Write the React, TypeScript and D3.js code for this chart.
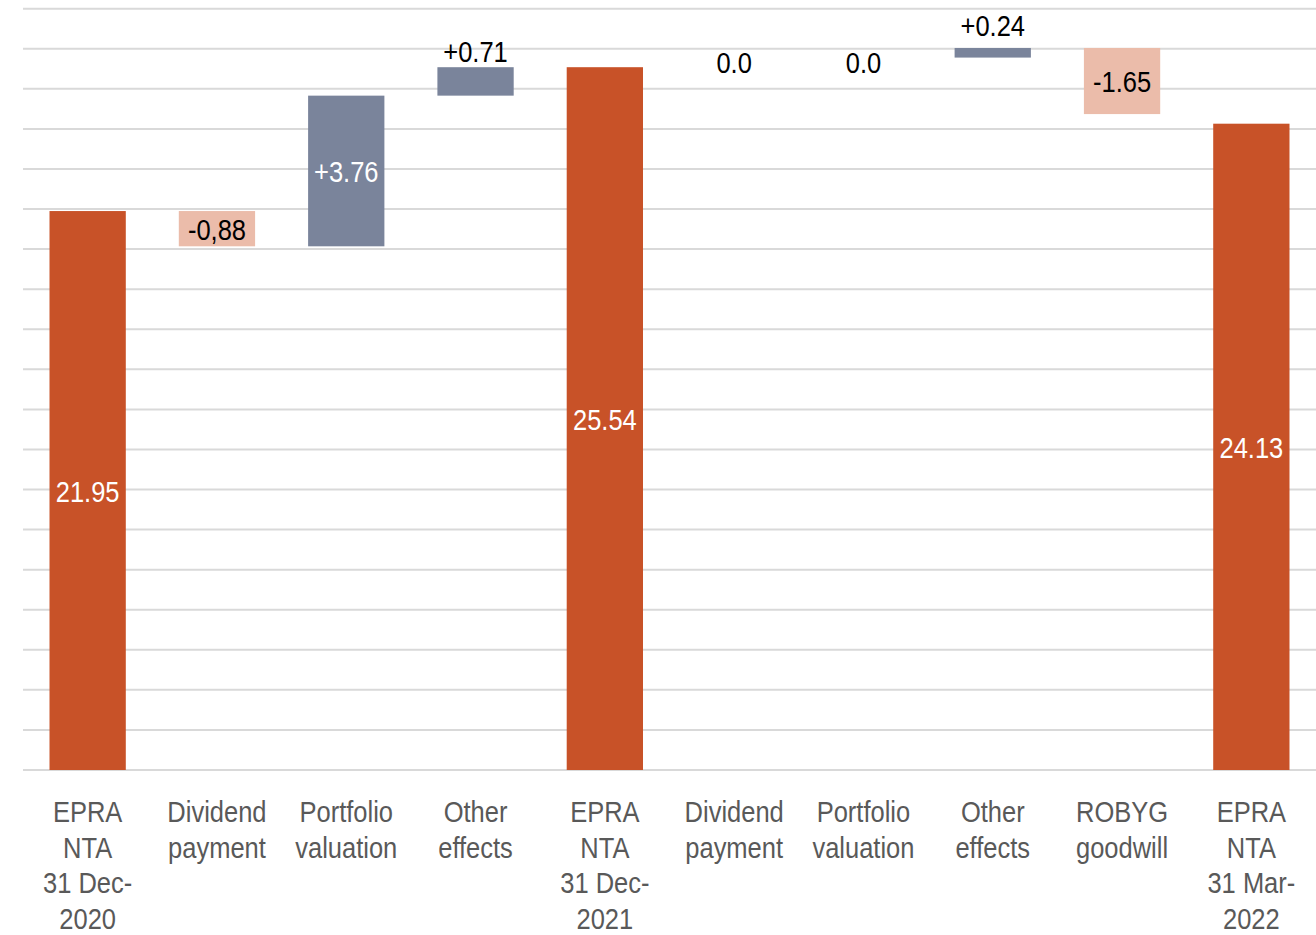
import React from "react";
import * as d3 from "d3";

// ---- data ----
const categoryLines: string[][] = [
  ["EPRA", "NTA", "31 Dec-", "2020"],
  ["Dividend", "payment"],
  ["Portfolio", "valuation"],
  ["Other", "effects"],
  ["EPRA", "NTA", "31 Dec-", "2021"],
  ["Dividend", "payment"],
  ["Portfolio", "valuation"],
  ["Other", "effects"],
  ["ROBYG", "goodwill"],
  ["EPRA", "NTA", "31 Mar-", "2022"],
];
const kinds = ["total", "down", "up", "up", "total", "zero", "zero", "up", "down", "total"];
const values = [21.95, -0.88, 3.76, 0.71, 25.54, 0.0, 0.0, 0.24, -1.65, 24.13];
// level from which each step starts (as drawn in the picture)
const bases = [0, 21.95, 21.07, 24.83, 0, 25.28, 25.28, 25.78, 26.02, 0];
const valueLabels = ["21.95", "-0,88", "+3.76", "+0.71", "25.54", "0.0", "0.0", "+0.24", "-1.65", "24.13"];
const labelPlacement = ["inside", "inside", "inside", "above", "inside", "above", "above", "above", "inside", "inside"];
const yMin = 8;
const yMax = 27;
const yTicks = d3.range(8, 28, 1);

// ---- style ----
const W = 1316;
const H = 935;
const COLORS: Record<string, string> = {
  total: "#C85228",
  up: "#7A849B",
  down: "#EBBCAA",
  zero: "none",
};
const FONT = "'Liberation Sans', Arial, sans-serif";
const FS = 30;
const SX = 0.85; // horizontal compression to emulate a narrow face

function NarrowText(props: {
  x: number;
  y: number;
  fill: string;
  children?: React.ReactNode;
}) {
  return (
    <text
      transform={`translate(${props.x},${props.y}) scale(${SX},1)`}
      x={0}
      y={0}
      textAnchor="middle"
      fontSize={FS}
      fill={props.fill}
    >
      {props.children}
    </text>
  );
}

export default function App() {
  const x = d3
    .scaleBand<number>()
    .domain(d3.range(categoryLines.length))
    .range([23, 1316])
    .paddingInner(0.41)
    .paddingOuter(0.205);
  const y = d3.scaleLinear().domain([yMin, yMax]).range([770, 8.7]);

  const bars = values.map((v, i) => {
    const k = kinds[i];
    let lo: number, hi: number;
    if (k === "total") {
      lo = yMin;
      hi = v;
    } else {
      lo = Math.min(bases[i], bases[i] + v);
      hi = Math.max(bases[i], bases[i] + v);
    }
    return { i, k, lo, hi };
  });

  return (
    <div style={{ position: "absolute", left: 0, top: 0 }}>
      <svg width={W} height={H} style={{ display: "block", background: "#fff" }} fontFamily={FONT}>
        {yTicks.map((t) => (
          <line key={t} x1={23} x2={W} y1={y(t)} y2={y(t)} stroke="#D9D9D9" strokeWidth={2} />
        ))}
        {bars.map((b) =>
          b.k === "zero" ? null : (
            <rect
              key={b.i}
              x={x(b.i)!}
              width={x.bandwidth()}
              y={y(b.hi)}
              height={y(b.lo) - y(b.hi)}
              fill={COLORS[b.k]}
            />
          )
        )}
        {bars.map((b) => {
          const cx = x(b.i)! + x.bandwidth() / 2;
          const inside = labelPlacement[b.i] === "inside";
          const fill = inside && (b.k === "total" || b.k === "up") ? "#FFFFFF" : "#000000";
          if (inside) {
            const cy = (y(b.hi) + y(b.lo)) / 2;
            return (
              <NarrowText key={b.i} x={cx} y={cy + 11} fill={fill}>
                {valueLabels[b.i]}
              </NarrowText>
            );
          }
          const gap = b.k === "up" && values[b.i] < 0.5 ? 12 : 5;
          return (
            <NarrowText key={b.i} x={cx} y={y(b.hi) - gap} fill={fill}>
              {valueLabels[b.i]}
            </NarrowText>
          );
        })}
        {categoryLines.map((lines, i) => {
          const cx = x(i)! + x.bandwidth() / 2;
          return (
            <NarrowText key={i} x={cx} y={822} fill="#595959">
              {lines.map((l, j) => (
                <tspan key={j} x={0} dy={j === 0 ? 0 : 35.7}>
                  {l}
                </tspan>
              ))}
            </NarrowText>
          );
        })}
      </svg>
    </div>
  );
}
